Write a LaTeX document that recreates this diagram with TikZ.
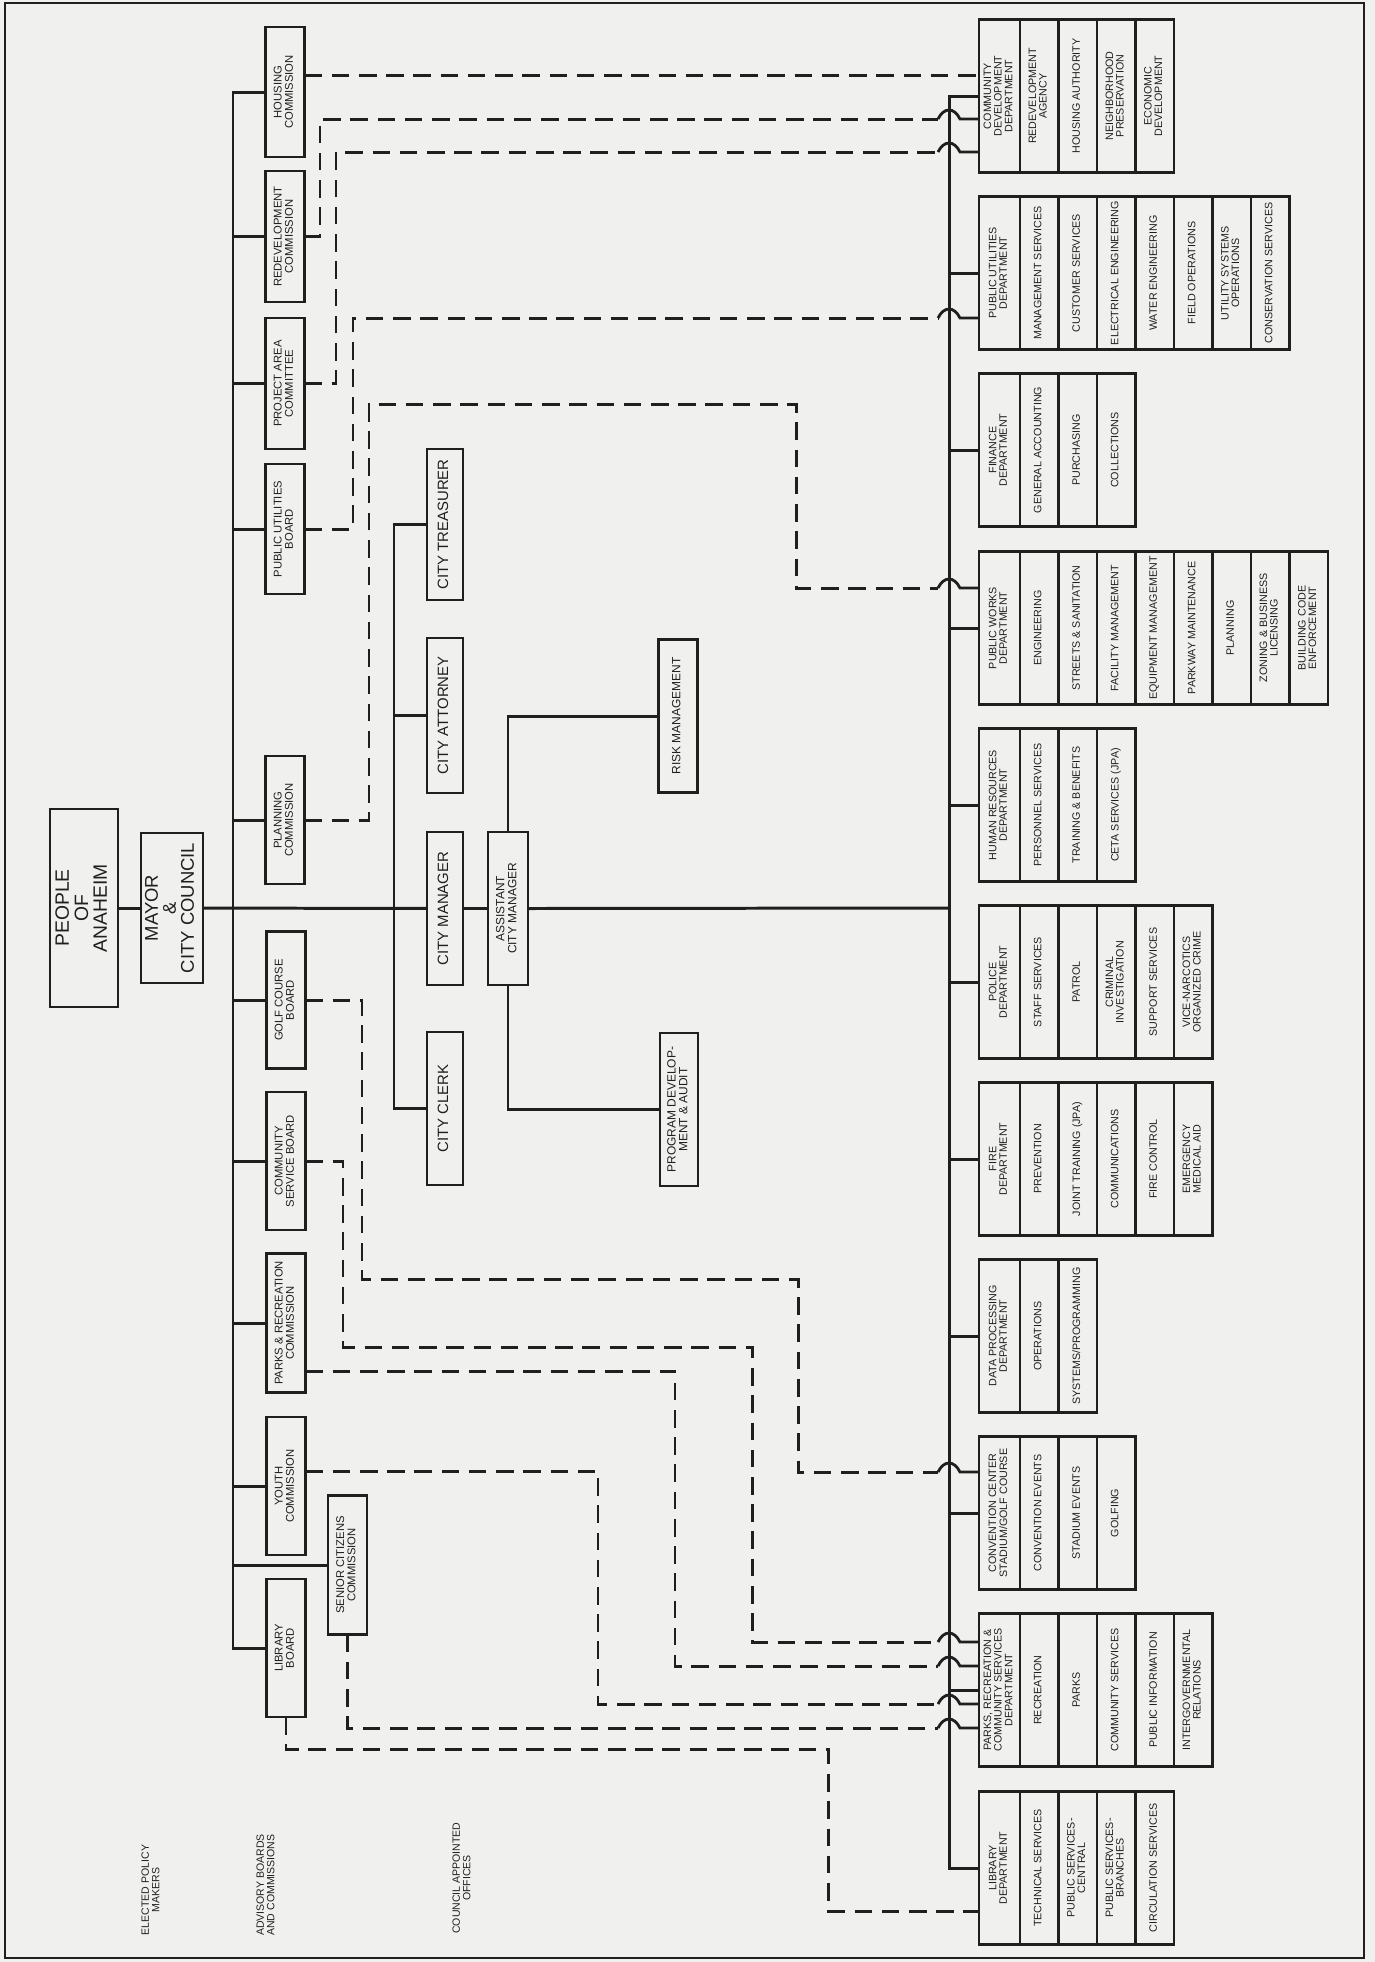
\documentclass[tikz,border=0pt]{standalone}
\usepackage{fontspec}
\setsansfont{Liberation Sans}
\usepackage{graphicx}
\definecolor{ink}{HTML}{1F1F1F}
\definecolor{paper}{HTML}{F0F0EE}
\usetikzlibrary{positioning}
\renewcommand{\arraystretch}{0.9}
% text set bottom to top, lines split by \\
\newcommand{\vlabel}[1]{\rotatebox{90}{\begin{tabular}{@{}c@{}}#1\end{tabular}}}
% department: name, centre y, head cell, section cells
\newcommand{\dept}[4]{%
   \node[headcell, alias=#1] (#1-1) at (979,#2) {\vlabel{#3}};
   \foreach \lbl [count=\i from 2, remember=\i as \j (initially 1)] in {#4}
      \node[subcell, right=0pt of #1-\j] (#1-\i) {\vlabel{\lbl}};
}
% dashed link that hops over the department trunk
\newcommand{\hoplink}[3]{%
   \draw[link] #1 -- (938,#2);
   \draw[hop] (938,#2) .. controls (944,#2-12) and (954,#2-12) .. (960,#2) -- (#3.west |- 0,#2);
}

\begin{document}
\begin{tikzpicture}[x=0.02cm, y=-0.02cm,
   conn/.style={ink, line width=1.7pt},
   link/.style={ink, line width=1.7pt, dash pattern=on 10pt off 5.5pt},
   hop/.style={ink, line width=1.6pt},
   box/.style={draw=ink, line width=1.3pt, inner sep=0pt, outer sep=0pt, text=ink},
   advbox/.style={box, minimum width=0.78cm, minimum height=2.76cm, font=\sffamily\fontsize{6.4}{7}\selectfont},
   office/.style={box, minimum width=0.72cm, minimum height=3.06cm, font=\sffamily\fontsize{8.5}{9}\selectfont},
   smallbox/.style={box, minimum width=0.78cm, minimum height=3.06cm, font=\sffamily\fontsize{6.8}{7.4}\selectfont},
   headcell/.style={box, anchor=west, minimum width=0.82cm, minimum height=3.06cm, font=\sffamily\fontsize{6.1}{6.7}\selectfont},
   subcell/.style={headcell, minimum width=0.77cm},
   note/.style={text=ink, inner sep=0pt, font=\sffamily\fontsize{6}{6.6}\selectfont}]
   % Page and frame
   \fill[paper] (0,0) rectangle (1375,1962);
   \draw[ink, line width=1pt] (5,3) rectangle (1364,1958);
   % Elected policy makers
   \node[box, minimum width=1.36cm, minimum height=3.96cm, font=\sffamily\fontsize{11}{12}\selectfont] (people) at (84,908) {\vlabel{PEOPLE\\OF\\ANAHEIM}};
   \node[box, minimum width=1.24cm, minimum height=3.0cm, font=\sffamily\fontsize{10.5}{11}\selectfont] (mayor) at (172,908) {\vlabel{MAYOR\\\&\\CITY COUNCIL}};
   % Advisory boards and commissions
   \node[advbox, minimum height=2.6cm] (hc) at (285,92) {\vlabel{HOUSING\\COMMISSION}};
   \node[advbox, minimum height=2.62cm] (rc) at (285,236.5) {\vlabel{REDEVELOPMENT\\COMMISSION}};
   \node[advbox, minimum height=2.62cm] (pa) at (285,383.5) {\vlabel{PROJECT AREA\\COMMITTEE}};
   \node[advbox, minimum height=2.6cm] (pb) at (285,529) {\vlabel{PUBLIC UTILITIES\\BOARD}};
   \node[advbox, minimum height=2.56cm] (pl) at (285,820) {\vlabel{PLANNING\\COMMISSION}};
   \node[advbox, minimum height=2.74cm] (gc) at (286,1000) {\vlabel{GOLF COURSE\\BOARD}};
   \node[advbox] (cs) at (286,1161) {\vlabel{COMMUNITY\\SERVICE BOARD}};
   \node[advbox, minimum height=2.78cm] (pc) at (286,1323) {\vlabel{PARKS \& RECREATION\\COMMISSION}};
   \node[advbox] (yc) at (286,1486) {\vlabel{YOUTH\\COMMISSION}};
   \node[advbox] (lb) at (286,1648) {\vlabel{LIBRARY\\BOARD}};
   \node[advbox, minimum height=2.78cm] (sc) at (347.5,1565) {\vlabel{SENIOR CITIZENS\\COMMISSION}};
   % Council appointed offices
   \node[office, minimum height=3.02cm] (ct) at (445,524.5) {\vlabel{CITY TREASURER}};
   \node[office, minimum height=3.1cm] (ca) at (445,715.5) {\vlabel{CITY ATTORNEY}};
   \node[office] (cm) at (445,908.5) {\vlabel{CITY MANAGER}};
   \node[office] (clk) at (445,1108.5) {\vlabel{CITY CLERK}};
   \node[smallbox, minimum width=0.8cm] (acm) at (508,908.5) {\vlabel{ASSISTANT\\CITY MANAGER}};
   \node[smallbox] (rm) at (678,716) {\vlabel{RISK MANAGEMENT}};
   \node[smallbox, minimum width=0.76cm] (pd) at (679,1109.5) {\vlabel{PROGRAM DEVELOP-\\MENT \& AUDIT}};
   % Departments
   \dept{cd}{96}{COMMUNITY\\DEVELOPMENT\\DEPARTMENT}{{REDEVELOPMENT\\AGENCY}, HOUSING AUTHORITY, {NEIGHBORHOOD\\PRESERVATION}, {ECONOMIC\\DEVELOPMENT}}
   \dept{pu}{273}{PUBLIC UTILITIES\\DEPARTMENT}{MANAGEMENT SERVICES, CUSTOMER SERVICES, ELECTRICAL ENGINEERING, WATER ENGINEERING, FIELD OPERATIONS, {UTILITY SYSTEMS\\OPERATIONS}, CONSERVATION SERVICES}
   \dept{fin}{450}{FINANCE\\DEPARTMENT}{GENERAL ACCOUNTING, PURCHASING, COLLECTIONS}
   \dept{pw}{628}{PUBLIC WORKS\\DEPARTMENT}{ENGINEERING, STREETS \& SANITATION, FACILITY MANAGEMENT, EQUIPMENT MANAGEMENT, PARKWAY MAINTENANCE, PLANNING, {ZONING \& BUSINESS\\LICENSING}, {BUILDING CODE\\ENFORCEMENT}}
   \dept{hr}{805}{HUMAN RESOURCES\\DEPARTMENT}{PERSONNEL SERVICES, TRAINING \& BENEFITS, {CETA SERVICES (JPA)}}
   \dept{pol}{982}{POLICE\\DEPARTMENT}{STAFF SERVICES, PATROL, {CRIMINAL\\INVESTIGATION}, SUPPORT SERVICES, {VICE-NARCOTICS\\ORGANIZED CRIME}}
   \dept{fire}{1159}{FIRE\\DEPARTMENT}{PREVENTION, {JOINT TRAINING (JPA)}, COMMUNICATIONS, FIRE CONTROL, {EMERGENCY\\MEDICAL AID}}
   \dept{dp}{1336}{DATA PROCESSING\\DEPARTMENT}{OPERATIONS, {SYSTEMS/PROGRAMMING}}
   \dept{conv}{1513}{CONVENTION CENTER\\STADIUM/GOLF COURSE}{CONVENTION EVENTS, STADIUM EVENTS, GOLFING}
   \dept{prcs}{1690}{PARKS, RECREATION \&\\COMMUNITY SERVICES\\DEPARTMENT}{RECREATION, PARKS, COMMUNITY SERVICES, PUBLIC INFORMATION, {INTERGOVERNMENTAL\\RELATIONS}}
   \dept{lib}{1868}{LIBRARY\\DEPARTMENT}{TECHNICAL SERVICES, {PUBLIC SERVICES-\\CENTRAL}, {PUBLIC SERVICES-\\BRANCHES}, CIRCULATION SERVICES}
   % Row labels
   \node[note] (lbl-elected) at (152,1890) {\vlabel{ELECTED POLICY\\MAKERS}};
   \node[note] (lbl-advisory) at (267,1885) {\vlabel{ADVISORY BOARDS\\AND COMMISSIONS}};
   \node[note] (lbl-council) at (463,1878) {\vlabel{COUNCIL APPOINTED\\OFFICES}};
   % Trunks
   \coordinate (atrunk) at (233,908);
   \coordinate (ctrunk) at (394,908);
   \coordinate (dtrunk) at (949,908);
   \draw[conn] (people) -- (mayor);
   \draw[conn] (mayor) -- (cm);
   \draw[conn] (cm) -- (acm);
   \draw[conn] (acm.east) -- (dtrunk);
   \draw[conn] (hc.west) -| (atrunk) |- (lb.west);
   \foreach \n in {rc,pa,pb,pl,gc,cs,pc,yc,sc}
      \draw[conn] (atrunk |- \n.west) -- (\n.west);
   \draw[conn] (ct.west) -| (ctrunk) |- (clk.west);
   \draw[conn] (ctrunk |- ca.west) -- (ca.west);
   \draw[conn] (acm.north) |- (rm.west);
   \draw[conn] (acm.south) |- (pd.west);
   \draw[conn] (cd.west) -| (dtrunk) |- (lib.west);
   \foreach \n in {pu,fin,pw,hr,pol,fire,dp,conv,prcs}
      \draw[conn] (dtrunk |- \n.west) -- (\n.west);
   % Advisory links (dashed)
   \draw[link] (hc.east |- 0,75) -- (cd.west |- 0,75);
   \hoplink{(rc.east) -| (320,119)}{119}{cd}
   \hoplink{(pa.east) -| (336,152)}{152}{cd}
   \hoplink{(pb.east) -| (353,318)}{318}{pu}
   \hoplink{(pl.east) -| (369,404) -| (796,588)}{588}{pw}
   \hoplink{(gc.east) -| (362,1279) -| (798,1472)}{1472}{conv}
   \hoplink{(cs.east) -| (343,1347) -| (752,1642)}{1642}{prcs}
   \hoplink{(pc.east |- 0,1371) -| (675,1666)}{1666}{prcs}
   \hoplink{(yc.east |- 0,1471) -| (598,1704)}{1704}{prcs}
   \hoplink{(sc.south) |- (900,1728)}{1728}{prcs}
   \draw[link] (lb.south) |- (828,1749) |- (lib.west |- 0,1911);
\end{tikzpicture}
\end{document}
